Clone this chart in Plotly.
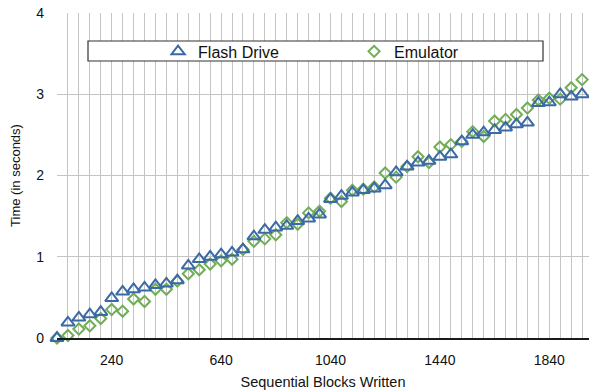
import plotly.graph_objects as go

# Sequential blocks written (category positions every 40 blocks)
blocks = [40 + 40 * i for i in range(50)]

flash_drive = [0.00, 0.19, 0.25, 0.29, 0.32, 0.49, 0.57, 0.60, 0.62, 0.65,
               0.67, 0.71, 0.89, 0.97, 1.00, 1.03, 1.05, 1.09, 1.25, 1.33,
               1.36, 1.38, 1.44, 1.47, 1.52, 1.71, 1.75, 1.79, 1.82, 1.84,
               1.88, 2.04, 2.11, 2.16, 2.18, 2.23, 2.26, 2.42, 2.50, 2.53,
               2.56, 2.59, 2.63, 2.65, 2.89, 2.90, 3.00, 2.97, 3.00, 3.02]

emulator = [0.00, 0.03, 0.11, 0.15, 0.24, 0.35, 0.33, 0.48, 0.45, 0.60,
            0.60, 0.70, 0.79, 0.84, 0.91, 0.95, 0.97, 1.09, 1.19, 1.22,
            1.27, 1.42, 1.40, 1.54, 1.56, 1.72, 1.68, 1.82, 1.83, 1.86,
            2.03, 1.98, 2.11, 2.23, 2.16, 2.35, 2.38, 2.42, 2.54, 2.48,
            2.67, 2.69, 2.75, 2.83, 2.93, 2.95, 2.94, 3.08, 3.18, 3.21]

x_tick_labels = ["240", "640", "1040", "1440", "1840"]
y_tick_values = [0, 1, 2, 3, 4]

FONT = "Liberation Sans, Arial, Helvetica, sans-serif"
BLUE = "#3a6aa6"
GREEN = "#70ad55"
GRID = "#c4c4c4"

ticktext = [str(b) if str(b) in x_tick_labels else "" for b in blocks]

fig = go.Figure()
fig.add_trace(go.Scatter(
    x=blocks, y=emulator, name="Emulator", mode="markers",
    marker=dict(symbol="diamond-open", size=8.5, color=GREEN,
                line=dict(width=2, color=GREEN)),
    cliponaxis=False, legendrank=2,
))
fig.add_trace(go.Scatter(
    x=blocks, y=flash_drive, name="Flash Drive", mode="markers",
    marker=dict(symbol="triangle-up-open", size=11.5, color=BLUE,
                line=dict(width=2, color=BLUE)),
    cliponaxis=False, legendrank=1,
))

L, T, B = 57, 13, 52
plot_w = 589 - L
px_per_unit = 10.94 / 40
x_max = 40 + plot_w / px_per_unit

fig.update_layout(
    width=589, height=390,
    margin=dict(l=L, r=0, t=T, b=B, autoexpand=False),
    paper_bgcolor="white", plot_bgcolor="white",
    font=dict(family=FONT, size=14, color="#111111"),
    showlegend=True,
    legend=dict(orientation="h", x=0.19, y=0.934, xanchor="left", yanchor="top",
                bgcolor="rgba(0,0,0,0)", borderwidth=0,
                font=dict(family=FONT, size=16, color="#111111"),
                entrywidth=151, entrywidthmode="pixels", traceorder="normal"),
    xaxis=dict(
        range=[40, x_max], tickmode="array", tickvals=blocks, ticktext=ticktext,
        showgrid=True, gridcolor=GRID, gridwidth=1,
        showline=True, linecolor="#1a1a1a", linewidth=1.5,
        zeroline=False, ticks="", ticklabelstandoff=8,
        tickfont=dict(size=14),
        title=dict(text="Sequential Blocks Written", font=dict(size=14.5), standoff=12),
    ),
    yaxis=dict(
        range=[0, 4], tickmode="array", tickvals=y_tick_values,
        showgrid=True, gridcolor=GRID, gridwidth=1,
        showline=False, zeroline=False, ticks="", ticklabelstandoff=12,
        tickfont=dict(size=14),
        title=dict(text="Time (in seconds)", font=dict(size=13), standoff=12),
    ),
    shapes=[dict(type="rect", xref="paper", yref="paper",
                 x0=(88 - L) / plot_w, x1=(543 - L) / plot_w,
                 y0=(338 - 61) / 325, y1=(338 - 41) / 325,
                 line=dict(color="#333333", width=1.2), fillcolor="white",
                 layer="above")],
)

fig.write_html("out.html",
               config={"displayModeBar": False},
               post_script="document.body.style.margin='0';document.body.style.padding='0';")
